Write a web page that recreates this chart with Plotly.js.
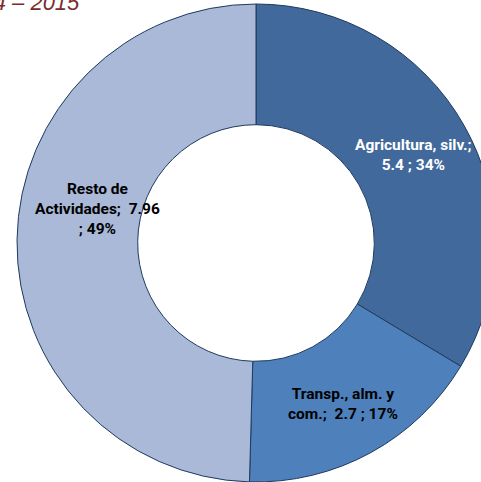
<!DOCTYPE html>
<html>
<head>
<meta charset="utf-8">
<script src="https://cdn.plot.ly/plotly-3.0.1.min.js"></script>
<style>
html,body{margin:0;padding:0;overflow:hidden;background:#fff;width:481px;height:482px;}
#chart{width:520px;height:482px;}
</style>
</head>
<body>
<div id="chart"></div>
<script>
// Data
var categories = ["Agricultura, silv.", "Transp., alm. y com.", "Resto de Actividades"];
var values = [5.4, 2.7, 7.96];
var percentLabels = ["34%", "17%", "49%"];
var labelLines = [
  ["Agricultura, silv.;", "5.4 ; 34%"],
  ["Transp., alm. y", "com.;  2.7 ; 17%"],
  ["Resto de", "Actividades;  7.96", "; 49%"]
];
var titleText = "2014 – 2015";

var W = 520, H = 482;
var colors = ["#41699B", "#4E80BC", "#A9B9D7"];
var textColors = ["#ffffff", "#000000", "#000000"];
var labelPos = [[413, 155], [343, 404], [97, 209]];

var trace = {
  type: "pie",
  labels: categories,
  values: values,
  hole: 0.495,
  sort: false,
  direction: "clockwise",
  rotation: 0,
  textinfo: "none",
  hoverinfo: "label+value+percent",
  marker: {colors: colors, line: {color: "#1F3A5F", width: 1}},
  domain: {x: [17 / W, 495 / W], y: [1 - 482 / H, 1 - 4 / H]},
  showlegend: false
};

var annotations = labelLines.map(function (lines, i) {
  return {
    xref: "paper", yref: "paper",
    x: labelPos[i][0] / W, y: 1 - labelPos[i][1] / H,
    xanchor: "center", yanchor: "middle",
    text: "<b>" + lines.join("<br>") + "</b>",
    showarrow: false,
    align: "center",
    font: {family: "Roboto, 'Liberation Sans', sans-serif", size: 15.5, color: textColors[i]}
  };
});
annotations.push({
  xref: "paper", yref: "paper",
  x: 82 / W, y: 1 - 17 / H,
  xanchor: "right", yanchor: "bottom",
  text: "<i>" + titleText + "</i>",
  showarrow: false,
  font: {family: "'Liberation Sans', Arial, sans-serif", size: 22, color: "#7B2C2C"}
});

var layout = {
  width: W, height: H,
  margin: {l: 0, r: 0, t: 0, b: 0},
  paper_bgcolor: "#ffffff",
  plot_bgcolor: "#ffffff",
  annotations: annotations
};

Plotly.newPlot("chart", [trace], layout, {displayModeBar: false, staticPlot: true});
</script>
</body>
</html>
